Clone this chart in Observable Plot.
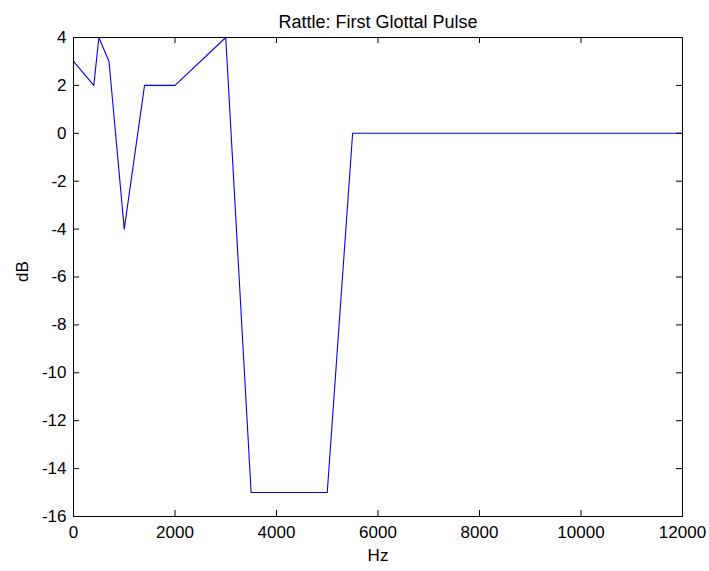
<!DOCTYPE html>
<html>
<head>
<meta charset="utf-8">
<script src="https://cdn.jsdelivr.net/npm/d3@7"></script>
<script src="https://cdn.jsdelivr.net/npm/@observablehq/plot@0.6"></script>
<style>
  html, body { margin: 0; padding: 0; background: #fff; }
  #chart { width: 709px; height: 571px; }
</style>
</head>
<body>
<div id="chart"></div>
<script>
const titleText = "Rattle: First Glottal Pulse";
const xLabel = "Hz";
const yLabel = "dB";
const freqHz = [0, 400, 500, 700, 1000, 1400, 2000, 3000, 3500, 5000, 5500, 12000];
const gainDb = [3, 2, 4, 3, -4, 2, 2, 4, -15, -15, 0, 0];
const xTicks = [0, 2000, 4000, 6000, 8000, 10000, 12000];
const yTicks = [-16, -14, -12, -10, -8, -6, -4, -2, 0, 2, 4];

const W = 709, H = 571;
const mL = 73, mR = 27, mT = 37, mB = 55;
const fw = W - mL - mR, fh = H - mT - mB;
const tick = 6;
const font = "Liberation Sans, Arial, sans-serif";

const data = freqHz.map((f, i) => ({hz: f, db: gainDb[i]}));

const plot = Plot.plot({
  width: W,
  height: H,
  marginLeft: mL,
  marginRight: mR,
  marginTop: mT,
  marginBottom: mB,
  style: {fontFamily: font, fontSize: "17px", background: "#fff", color: "#000"},
  x: {domain: [0, 12000], ticks: xTicks},
  y: {domain: [-16, 4], ticks: yTicks},
  marks: [
    Plot.line(data, {x: "hz", y: "db", stroke: "#0000ff", strokeWidth: 1.1}),
    Plot.frame({stroke: "#000", strokeWidth: 1}),
    Plot.ruleX(xTicks, {x: d => d, insetTop: fh - tick, stroke: "#000"}),
    Plot.ruleX(xTicks, {x: d => d, insetBottom: fh - tick, stroke: "#000"}),
    Plot.ruleY(yTicks, {y: d => d, insetRight: fw - tick, stroke: "#000"}),
    Plot.ruleY(yTicks, {y: d => d, insetLeft: fw - tick, stroke: "#000"}),
    Plot.axisX(xTicks, {tickSize: 0, tickPadding: 9, fontSize: 17, label: null, tickFormat: d => String(d)}),
    Plot.axisY(yTicks, {tickSize: 0, tickPadding: 7, fontSize: 17, label: null, tickFormat: d => String(d)}),
    Plot.text([xLabel], {frameAnchor: "bottom", dy: 44, fontSize: 17, text: d => d}),
    Plot.text([yLabel], {frameAnchor: "left", dx: -51, dy: 5, rotate: -90, fontSize: 17, text: d => d}),
    Plot.text([titleText], {frameAnchor: "top", dy: -22, fontSize: 18, text: d => d})
  ]
});
document.getElementById("chart").appendChild(plot);
</script>
</body>
</html>
